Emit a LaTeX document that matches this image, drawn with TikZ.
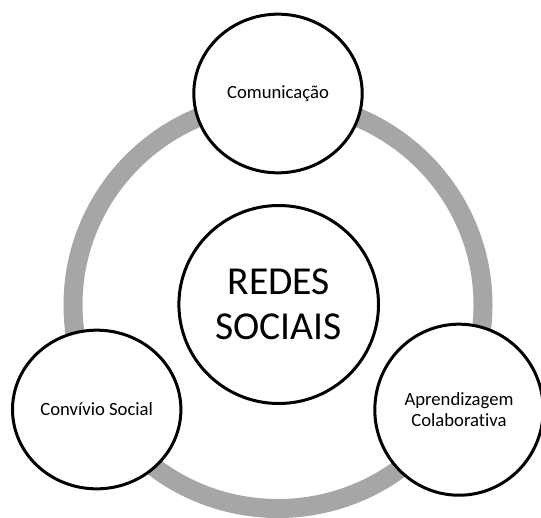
\documentclass[tikz,border=0pt]{standalone}
\usepackage{fontspec}
\setmainfont{Carlito}[Ligatures={NoCommon,NoDiscretionary,NoContextual}]
\usetikzlibrary{shapes.geometric}

\tikzset{every picture/.style={line width=0.75pt}}
\tikzset{
  ringline/.style={draw={rgb, 255:red, 166; green, 166; blue, 166}, line width=14.25pt},
  topicnode/.style={ellipse, draw, fill=white, line width=2.25pt, inner sep=0pt, align=center,
    minimum width=126.3pt, minimum height=119pt, font=\fontsize{14}{16}\selectfont},
  hubnode/.style={ellipse, draw, fill=white, line width=2.25pt, inner sep=0pt, align=center,
    minimum width=149.7pt, minimum height=148.5pt, font=\fontsize{29.7}{33.5}\selectfont}
}

\begin{document}
\begin{tikzpicture}[x=0.75pt,y=0.75pt,yscale=-1,xscale=1]
\useasboundingbox (0,0) rectangle (541,517);

%Shape: Ring
\coordinate (ringc) at (278,305);
\draw [ringline] (ringc) ellipse [x radius=205, y radius=203.5];

%Shape: Circle (hub)
\node [hubnode] (redes) at (278.7,304.5) {REDES\\SOCIAIS};
%Shape: Circle (top)
\node [topicnode] (comun) at (278,93.5) {Comunica\c{c}\~ao};
%Shape: Circle (left)
\node [topicnode] (convivio) at (96.7,409.5) {Conv\'{\i}vio Social};
%Shape: Circle (right)
\node [topicnode, minimum height=128.3pt] (aprend) at (459,409.7) {Aprendizagem\\Colaborativa};

\end{tikzpicture}
\end{document}
